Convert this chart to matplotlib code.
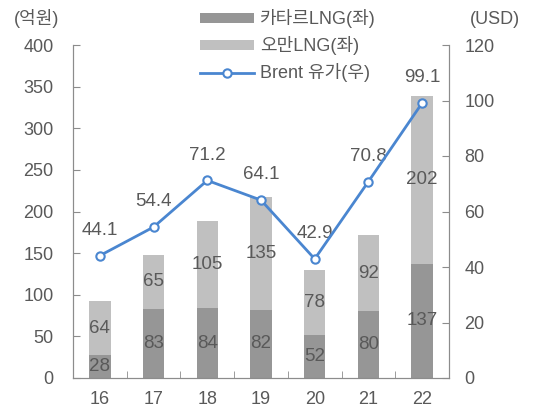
import numpy as np
import matplotlib
matplotlib.use('Agg')
from matplotlib import pyplot as plt

plt.rcParams['font.family'] = ['Liberation Sans', 'Noto Sans CJK KR']

years = ['16', '17', '18', '19', '20', '21', '22']
qatar = [28, 83, 84, 82, 52, 80, 137]
oman = [64, 65, 105, 135, 78, 92, 202]
brent = [44.1, 54.4, 71.2, 64.1, 42.9, 70.8, 99.1]

txt = '#595959'
axc = '#8c8c8c'
dark = '#969696'
light = '#c0c0c0'
blue = '#4a86d0'

fig = plt.figure(figsize=(5.37, 4.09), dpi=100)
ax1 = fig.add_axes([73/537, 31/409, 376/537, 333/409])
ax2 = ax1.twinx()

x = np.arange(len(years))
w = 0.4
b1 = ax1.bar(x, qatar, w, color=dark, label='카타르LNG(좌)', zorder=2)
b2 = ax1.bar(x, oman, w, bottom=qatar, color=light, label='오만LNG(좌)', zorder=2)
for i in range(len(x)):
    ax1.text(x[i], qatar[i]/2, str(qatar[i]), ha='center', va='center',
             fontsize=13.5, color=txt, zorder=3)
    ax1.text(x[i], qatar[i] + oman[i]/2, str(oman[i]), ha='center', va='center',
             fontsize=13.5, color=txt, zorder=3)

ln, = ax2.plot(x, brent, color=blue, lw=2, marker='o', ms=6,
               mfc='white', mec=blue, mew=1.5, label='Brent 유가(우)', zorder=4)
for i in range(len(x)):
    ax2.annotate('%.1f' % brent[i], (x[i], brent[i]), xytext=(0, 12),
                 textcoords='offset points', ha='center', va='bottom',
                 fontsize=13.5, color=txt)

ax1.set_xlim(-0.5, len(x) - 0.5)
ax1.set_ylim(0, 400)
ax2.set_ylim(0, 120)
ax1.set_yticks(np.arange(0, 401, 50))
ax2.set_yticks(np.arange(0, 121, 20))
ax1.set_xticks(x)
ax1.set_xticklabels(years)
ax1.set_xticks(np.arange(0.5, len(x) - 1, 1), minor=True)

for a in (ax1, ax2):
    a.spines['top'].set_visible(False)
    for s in ('left', 'right', 'bottom'):
        a.spines[s].set_color(axc)
    a.tick_params(axis='y', direction='in', length=5, color=axc,
                  labelcolor=txt, labelsize=13)
ax1.tick_params(axis='x', which='major', length=0, labelsize=13,
                labelcolor=txt, pad=9)
ax1.tick_params(axis='x', which='minor', direction='in', length=5, color=axc)
ax1.tick_params(axis='y', pad=14)
ax2.tick_params(axis='y', pad=11)

fig.text(14/537, 1 - 19/409, '(억원)', fontsize=13, color=txt, va='center')
fig.text(470/537, 1 - 19/409, '(USD)', fontsize=13, color=txt, va='center')

leg = ax1.legend([b1, b2, ln], ['카타르LNG(좌)', '오만LNG(좌)', 'Brent 유가(우)'],
                 loc='upper center', bbox_to_anchor=(0.572, 1.14), frameon=False,
                 fontsize=13, handlelength=3.0, handleheight=0.45,
                 labelspacing=0.45, borderpad=0.1, handletextpad=0.35)
for t in leg.get_texts():
    t.set_color(txt)

fig.savefig('out.png', dpi=100)
